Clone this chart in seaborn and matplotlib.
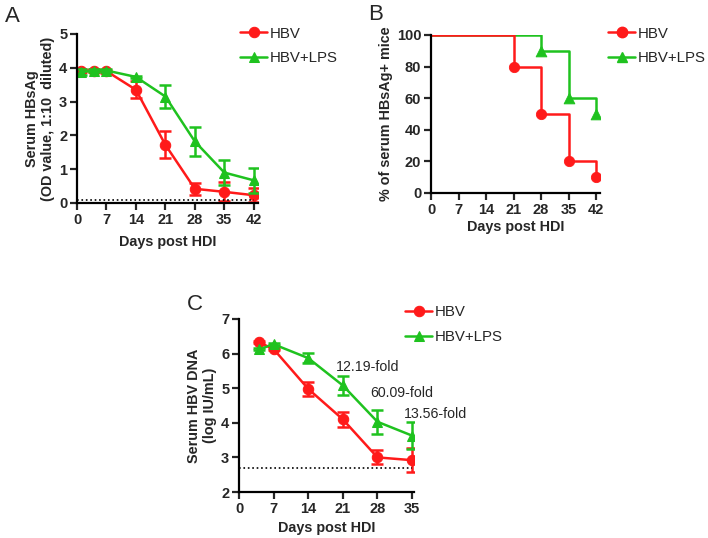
import matplotlib
matplotlib.use("Agg")
import matplotlib.pyplot as plt
import numpy as np
import pandas as pd
import seaborn as sns

sns.set_style("ticks")
plt.rcParams["font.family"] = ["Liberation Sans", "DejaVu Sans"]

RED = "#ff1a1a"
GREEN = "#1fc21f"

# ── Panel A: serum HBsAg ──────────────────────────────────────────────────────
a_days = [1, 4, 7, 14, 21, 28, 35, 42]
a_hbv = [3.92, 3.92, 3.90, 3.35, 1.72, 0.42, 0.33, 0.23]
a_hbv_err = [0.05, 0.04, 0.04, 0.25, 0.40, 0.18, 0.28, 0.20]
a_lps = [3.87, 3.92, 3.92, 3.73, 3.15, 1.82, 0.90, 0.67]
a_lps_err = [0.08, 0.04, 0.04, 0.04, 0.35, 0.42, 0.38, 0.38]
a_limit = 0.1

# ── Panel B: % HBsAg+ mice ────────────────────────────────────────────────────
b_hbv_days = [0, 21, 28, 35, 42]
b_hbv_pct = [100, 80, 50, 20, 10]
b_lps_days = [0, 28, 35, 42]
b_lps_pct = [100, 90, 60, 50]

# ── Panel C: serum HBV DNA ────────────────────────────────────────────────────
c_days = [4, 7, 14, 21, 28, 35]
c_hbv = [6.33, 6.13, 4.98, 4.10, 3.00, 2.92]
c_hbv_err = [0.03, 0.03, 0.20, 0.22, 0.20, 0.35]
c_lps = [6.12, 6.27, 5.87, 5.08, 4.03, 3.63]
c_lps_err = [0.03, 0.03, 0.15, 0.28, 0.35, 0.38]
c_limit = 2.7
fold_labels = ["12.19-fold", "60.09-fold", "13.56-fold"]
fold_pos = [(19.6, 5.62), (26.5, 4.87), (33.4, 4.25)]

W, H = 708, 538
TICK_FS = 10.5
LABEL_FS = 10.4
LEG_FS = 10.8
FOLD_FS = 10.2


def axes_px(fig, left, top, right, bottom):
    return fig.add_axes([left / W, 1 - bottom / H, (right - left) / W, (bottom - top) / H])


def style_axis(ax):
    for side in ["top", "right"]:
        ax.spines[side].set_visible(False)
    for side in ["left", "bottom"]:
        ax.spines[side].set_linewidth(1.6)
        ax.spines[side].set_color("black")
    ax.tick_params(width=1.6, length=5, labelsize=TICK_FS, direction="out", pad=2)
    for lab in ax.get_xticklabels() + ax.get_yticklabels():
        lab.set_fontweight("bold")


def draw_series(ax, x, y, err, color, marker, label):
    df = pd.DataFrame({"day": x, "val": y})
    sns.lineplot(data=df, x="day", y="val", ax=ax, color=color, marker=marker,
                 markersize=7.5, markeredgecolor=color, linewidth=1.8, label=label)
    ax.errorbar(x, y, yerr=err, fmt="none", ecolor=color, elinewidth=1.8,
                capsize=4, capthick=1.8)


def add_legend(ax, left_px, top_px):
    ax.legend(loc="upper left", bbox_to_anchor=(left_px / W, 1 - top_px / H),
              bbox_transform=fig.transFigure, frameon=False, fontsize=LEG_FS,
              handlelength=1.8, handletextpad=0.2, labelspacing=0.72,
              borderpad=0, borderaxespad=0)


fig = plt.figure(figsize=(W / 100, H / 100), dpi=100)

# Panel A
axA = axes_px(fig, 77, 34, 258, 203)
draw_series(axA, a_days, a_hbv, a_hbv_err, RED, "o", "HBV")
draw_series(axA, a_days, a_lps, a_lps_err, GREEN, "^", "HBV+LPS")
axA.plot([0, 42], [a_limit, a_limit], ls=":", color="black", lw=1.2)
axA.set_xlim(0, 43)
axA.set_ylim(0, 5)
axA.set_xticks(range(0, 43, 7))
axA.set_yticks(range(0, 6))
axA.set_xlabel("Days post HDI", fontsize=LABEL_FS, fontweight="bold", labelpad=6)
axA.set_ylabel("Serum HBsAg\n(OD value, 1:10  diluted)", fontsize=LABEL_FS,
               fontweight="bold", labelpad=3)
style_axis(axA)
add_legend(axA, 240, 26.5)
fig.text(5 / W, 1 - 16 / H, "A", fontsize=16, va="center")

# Panel B
axB = axes_px(fig, 431, 35, 600, 193)
sns.lineplot(x=b_lps_days, y=b_lps_pct, ax=axB, color=GREEN, linewidth=1.8,
             drawstyle="steps-post")
sns.lineplot(x=b_hbv_days, y=b_hbv_pct, ax=axB, color=RED, linewidth=1.8,
             drawstyle="steps-post")
sns.scatterplot(x=b_hbv_days[1:], y=b_hbv_pct[1:], ax=axB, color=RED, marker="o",
                s=55, edgecolor=RED, zorder=5)
sns.scatterplot(x=b_lps_days[1:], y=b_lps_pct[1:], ax=axB, color=GREEN, marker="^",
                s=60, edgecolor=GREEN, zorder=5)
axB.plot([], [], color=RED, marker="o", markersize=7.5, lw=1.8, label="HBV")
axB.plot([], [], color=GREEN, marker="^", markersize=7.5, lw=1.8, label="HBV+LPS")
axB.set_xlim(0, 43)
axB.set_ylim(0, 100)
axB.set_xticks(range(0, 43, 7))
axB.set_yticks(range(0, 101, 20))
axB.set_xlabel("Days post HDI", fontsize=LABEL_FS, fontweight="bold", labelpad=2)
axB.set_ylabel("% of serum HBsAg+ mice", fontsize=LABEL_FS, fontweight="bold",
               labelpad=3)
style_axis(axB)
add_legend(axB, 608, 26.5)
fig.text(368 / W, 1 - 15 / H, "B", fontsize=16, va="center")

# Panel C
axC = axes_px(fig, 239, 319, 414, 492)
draw_series(axC, c_days, c_hbv, c_hbv_err, RED, "o", "HBV")
draw_series(axC, c_days, c_lps, c_lps_err, GREEN, "^", "HBV+LPS")
axC.plot([0, 35], [c_limit, c_limit], ls=":", color="black", lw=1.2)
for lab, (x, y) in zip(fold_labels, fold_pos):
    axC.text(x, y, lab, fontsize=FOLD_FS, va="center", ha="left")
axC.set_xlim(0, 35.4)
axC.set_ylim(2, 7)
axC.set_xticks(range(0, 36, 7))
axC.set_yticks(range(2, 8))
axC.set_xlabel("Days post HDI", fontsize=LABEL_FS, fontweight="bold", labelpad=4)
axC.set_ylabel("Serum HBV DNA\n(log IU/mL)", fontsize=LABEL_FS, fontweight="bold",
               labelpad=3)
style_axis(axC)
add_legend(axC, 405, 305.5)
fig.text(187 / W, 1 - 305 / H, "C", fontsize=16, va="center")

fig.savefig("out.png", dpi=100)
